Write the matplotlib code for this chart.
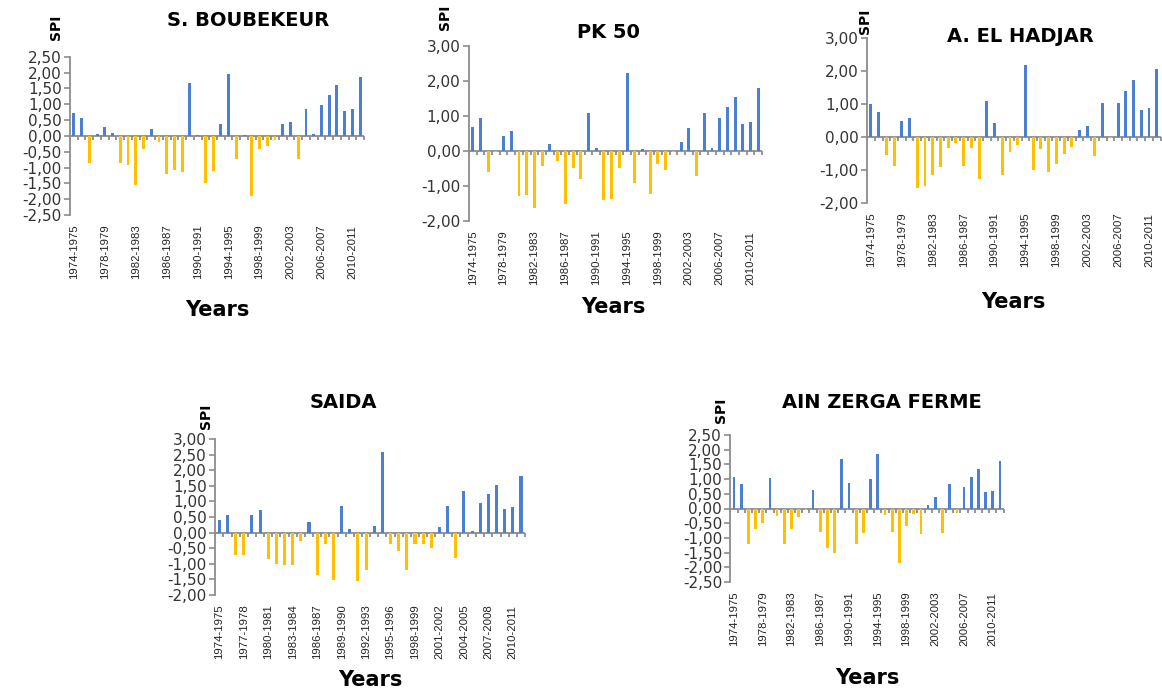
import numpy as np
import matplotlib.pyplot as plt
from matplotlib.ticker import FuncFormatter

# hydrological years 1974-1975 ... 2011-2012
seasons = [f"{y}-{y + 1}" for y in range(1974, 2012)]

spi_boubekeur = [0.73, 0.55, -0.85, 0.05, 0.28, 0.08, -0.87, -0.93, -1.55, -0.43,
                 0.22, -0.20, -1.22, -1.08, -1.13, 1.67, 0.04, -1.50, -1.10, 0.37,
                 1.95, -0.72, 0.03, -1.90, -0.42, -0.33, -0.12, 0.37, 0.43, -0.73,
                 0.84, 0.05, 0.97, 1.30, 1.60, 0.78, 0.84, 1.87]
spi_pk50 = [0.68, 0.94, -0.59, -0.02, 0.42, 0.56, -1.29, -1.26, -1.64, -0.43,
            0.20, -0.29, -1.50, -0.48, -0.80, 1.08, 0.10, -1.40, -1.38, -0.48,
            2.24, -0.90, 0.05, -1.23, -0.37, -0.53, -0.03, 0.27, 0.65, -0.71,
            1.10, 0.10, 0.93, 1.27, 1.55, 0.77, 0.83, 1.80]
spi_hadjar = [1.00, 0.76, -0.54, -0.87, 0.49, 0.58, -1.55, -1.48, -1.16, -0.92,
              -0.34, -0.18, -0.87, -0.34, -1.26, 1.09, 0.41, -1.16, -0.44, -0.24,
              2.17, -1.00, -0.37, -1.06, -0.82, -0.51, -0.29, 0.21, 0.32, -0.59,
              1.03, -0.04, 1.03, 1.40, 1.74, 0.81, 0.87, 2.06]
spi_saida = [0.40, 0.58, -0.71, -0.71, 0.58, 0.73, -0.86, -1.02, -1.05, -1.05,
             -0.26, 0.34, -1.35, -0.35, -1.53, 0.84, 0.12, -1.56, -1.19, 0.21,
             2.57, -0.35, -0.60, -1.19, -0.35, -0.35, -0.49, 0.18, 0.84, -0.81,
             1.33, 0.04, 0.94, 1.24, 1.54, 0.76, 0.82, 1.80]
spi_zerga = [1.08, 0.82, -1.22, -0.69, -0.51, 1.03, -0.27, -1.22, -0.71, -0.30,
             -0.05, 0.62, -0.80, -1.36, -1.53, 1.70, 0.88, -1.22, -0.85, 1.00,
             1.87, -0.22, -0.80, -1.87, -0.59, -0.19, -0.87, 0.12, 0.39, -0.85,
             0.85, -0.15, 0.74, 1.07, 1.35, 0.56, 0.61, 1.61]

BLUE = '#4a7fd2'
GOLD = '#ffc000'
GREY = '#8c8c8c'
W, H = 1162, 688

fig = plt.figure(figsize=(W / 100, H / 100), dpi=100)


def rect(l, t, r, b):
    return [l / W, 1 - b / H, (r - l) / W, (b - t) / H]


def label(x, y, s, **kw):
    fig.text(x / W, 1 - y / H, s, ha='center', va='center', **kw)


def panel(box, values, title, ylim, ystep, every, title_xy, spi_xy, years_xy):
    ax = fig.add_axes(rect(*box))
    v = np.array(values)
    x = np.arange(len(v))
    ax.bar(x, v, width=0.38, color=np.where(v >= 0, BLUE, GOLD), zorder=3)
    ax.axhline(0, color=GREY, lw=1.3, zorder=2)
    bounds = np.arange(len(v) + 1) - 0.5
    ax.plot(bounds, np.zeros_like(bounds), ls='none', marker=3, ms=3,
            mew=1.3, color=GREY, zorder=2)
    ax.set_xlim(-0.5, len(v) - 0.5)
    ax.set_ylim(*ylim)
    ax.set_yticks(np.arange(ylim[0], ylim[1] + 1e-6, ystep))
    ax.yaxis.set_major_formatter(FuncFormatter(lambda t, p: f"{t:.2f}".replace('.', ',')))
    ax.set_xticks(x[::every])
    ax.set_xticklabels(seasons[::every], rotation=90,
                       family='Liberation Sans', fontsize=8.2)
    ax.tick_params(axis='x', length=0, pad=7, labelcolor='#222222')
    ax.tick_params(axis='y', direction='out', length=4, width=1.2, color=GREY,
                   labelsize=11, labelcolor='#333333', pad=2)
    for s in ['top', 'right', 'bottom']:
        ax.spines[s].set_visible(False)
    ax.spines['left'].set_color(GREY)
    ax.spines['left'].set_linewidth(1.3)
    label(*title_xy, title, fontsize=14, fontweight='bold')
    label(*spi_xy, 'SPI', fontsize=10, fontweight='bold', rotation=90)
    label(*years_xy, 'Years', fontsize=15, fontweight='bold')
    return ax


panel((70, 56.7, 364, 215), spi_boubekeur, 'S. BOUBEKEUR', (-2.5, 2.5), 0.5, 4,
      (248, 20), (56, 27), (217, 310))
panel((468.8, 46, 762.2, 221), spi_pk50, 'PK 50', (-2, 3), 1.0, 4,
      (608, 33), (445, 17), (613, 307))
panel((867.1, 38, 1160.6, 203), spi_hadjar, 'A. EL HADJAR', (-2, 3), 1.0, 4,
      (1020, 37), (865, 21), (1013, 302))
panel((215.2, 439, 525.1, 595), spi_saida, 'SAIDA', (-2, 3), 0.5, 3,
      (343, 402), (206, 416), (370, 680))
panel((730.4, 435, 1003.6, 582), spi_zerga, 'AIN ZERGA FERME', (-2.5, 2.5), 0.5, 4,
      (882, 402), (721, 410), (867, 678))

fig.savefig('out.png', dpi=100)
